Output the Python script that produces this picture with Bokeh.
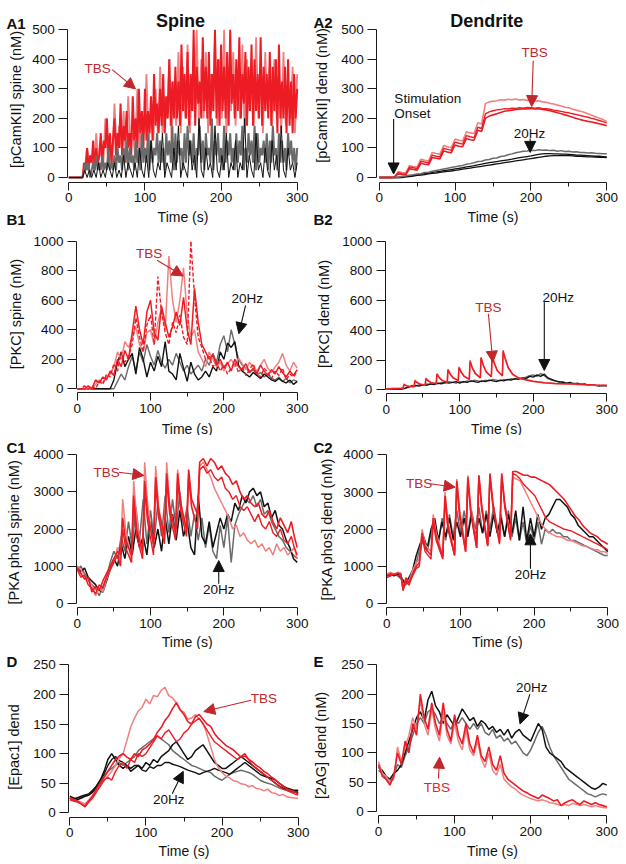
import math
from bokeh.plotting import figure
from bokeh.layouts import column, row
from bokeh.models import Range1d, Label, Arrow, NormalHead, FixedTicker
from bokeh.embed import file_html
from bokeh.resources import INLINE

FONT = "Liberation Sans"
RED = "#ed1c24"
PINK = "#f08080"
GRAY = "#6a6a6a"
BLACK = "#111111"
DARKRED = "#c1272d"

# ---------------- time bases ----------------
T5 = list(range(0, 301, 5))
T2 = list(range(0, 301, 2))
T3 = list(range(0, 301, 3))

# ---------------- A1: [pCamKII] spine ----------------
a1_red = [0,0,0,0,0,0,0,0,0,0,
          50,25,100,25,75,50,125,25,100,50,
          75,150,50,125,100,200,75,150,50,125,
          200,75,150,100,250,75,175,125,225,100,
          150,75,275,125,200,100,300,150,225,100,
          300,125,225,150,275,125,350,175,250,150,
          300,175,350,150,275,200,400,175,325,200,
          375,200,325,175,450,225,350,200,425,175,
          350,225,500,175,375,250,325,200,475,225,
          375,200,425,175,350,225,500,200,400,175,
          450,225,375,200,425,175,500,250,350,200,
          400,225,475,200,350,250,425,175,375,225,
          450,175,400,225,350,200,475,175,375,225,
          350,200,425,175,375,225,400,150,450,200,
          325,200,375,150,400,175,325,150,350,200,
          300]
a1_gray = [0,0,0,0,0,0,0,0,0,0,
           25,50,25,50,0,25,50,25,75,25,
           50,25,75,25,50,25,100,25,50,25,
           75,25,100,50,75,25,100,50,125,25,
           100,50,75,25,125,50,100,25,150,50,
           100,50,150,25,125,50,100,75,150,50,
           125,50,100,25,150,75,125,50,175,25,
           150,50,125,75,100,25,150,50,175,75,
           125,50,150,25,100,75,175,50,125,25,
           150,75,100,50,200,25,125,75,150,50,
           100,25,175,50,125,75,150,50,100,25,
           150,50,125,75,175,25,100,50,150,75,
           125,50,175,25,150,50,100,75,125,50,
           150,25,125,50,175,75,100,25,150,50,
           125,50,100,25,150,75,125,50,100,25,
           100]
a1_pink = [0,0,0,0,0,0,0,25,100,50,
           75,25,150,50,100,25,200,75,125,50,
           250,75,175,100,225,50,275,125,150,75,
           300,100,225,150,350,100,250,125,300,150,
           375,150,275,200,400,125,325,175,425,150,
           375,200,450,150,325,225,500,175,400,200,
           425,150,350,225,475,175,400,200,500,150,
           375,225,425,175,350,200,450,150,400,225,
           375,175,475,200,350,150,425,225,375,175,
           400,200,350,150,425,175,300,200,375,150,
           350]
a1_black = [0,0,0,0,0,0,0,25,0,25,
            0,25,0,50,0,25,0,50,25,0,
            50,0,25,0,75,0,50,25,0,50,
            0,100,25,0,75,0,125,25,0,50,
            25,150,0,50,25,0,100,25,175,0,
            50,25,0,125,25,75,0,200,25,0,
            100,25,50,0,175,25,0,75,25,150,
            0,50,25,125,0,50,25,200,0,75,
            25,0,150,25,50,0,100,25,0,125,
            25,75,0,175,25,0,100,25,50,0,
            50]

# ---------------- A2: [pCamKII] dend ----------------
a2_pink = [0,0,0,0,1,20,17,15,40,37,
           35,62,58,56,85,81,79,108,104,101,
           130,126,124,155,151,149,185,181,250,256,
           258,260,263,262,265,263,266,262,264,261,
           262,259,260,256,255,251,249,245,242,238,
           236,231,228,224,221,216,211,206,201,196,
           190]
a2_red = [0,0,0,0,1,12,10,9,30,27,
          25,48,45,43,68,65,63,90,86,84,
          110,106,104,132,128,126,160,156,200,208,
          212,216,220,224,226,228,230,231,233,232,
          234,232,233,230,229,226,223,219,216,212,
          208,204,200,196,193,190,188,185,182,179,
          175]
a2_red2 = [0,0,0,0,1,16,13,11,36,33,
           30,55,52,49,76,72,70,98,95,92,
           120,116,113,142,138,135,170,166,215,222,
           226,229,230,233,232,235,234,236,235,237,
           236,235,236,234,233,231,228,226,224,221,
           219,216,213,210,207,204,200,197,193,189,
           185]
a2_gray = [0,0,0,0,0,1,3,5,8,9,
           12,13,17,18,21,24,26,29,31,34,
           36,39,41,45,47,50,54,55,59,61,
           65,66,71,73,77,80,84,86,89,90,
           92,91,94,92,93,91,92,89,91,88,
           89,86,87,85,85,83,84,82,81,80,
           80]
a2_black = [0,0,0,0,0,0,1,3,5,7,
            9,11,13,15,17,19,21,23,25,27,
            29,31,33,36,38,40,43,45,48,50,
            52,54,56,58,60,62,65,67,69,71,
            73,76,78,80,81,81,80,80,79,79,
            78,77,76,76,75,74,73,72,72,71,
            70]
a2_black2 = [0,0,0,0,0,0,0,2,3,5,
             7,8,10,12,14,15,17,19,21,22,
             24,26,28,30,32,34,36,38,40,42,
             44,46,48,50,52,54,56,58,60,62,
             64,66,68,70,72,73,74,74,75,74,
             74,73,72,72,71,70,70,69,68,68,
             67]

# ---------------- B1: [PKC] spine ----------------
b1_red = [0,0,0,20,0,60,40,80,60,120,
          90,200,150,260,200,380,560,400,300,520,
          600,380,330,560,450,350,420,520,430,620,
          400,300,680,450,300,250,200,230,160,200,
          140,180,120,200,150,130,170,110,140,100,
          160,120,90,130,100,150,110,80,120,90,
          130]
b1_red2 = [0,0,20,0,20,0,50,30,100,80,
           170,120,250,180,220,300,480,350,250,430,
           500,300,760,520,380,300,450,380,500,350,
           300,1000,620,350,280,200,220,150,180,120,
           160,100,140,180,110,150,90,130,170,100,
           80,140,110,70,120,90,140,60,100,80,
           120]
b1_pink = [0,0,0,0,0,30,60,40,80,100,
           150,250,200,320,280,350,420,300,250,380,
           400,300,450,550,400,900,600,450,600,820,
           500,350,400,250,200,150,250,200,150,180,
           120,170,200,150,210,170,130,180,150,120,
           160,200,140,110,150,180,240,160,120,180,
           140]
b1_black = [0,0,0,0,0,0,0,0,0,0,
            60,180,250,150,200,240,100,280,200,80,
            180,120,220,150,320,120,100,60,240,140,
            50,180,100,60,80,120,80,150,120,250,
            200,310,280,320,160,120,100,80,110,90,
            70,100,80,60,50,70,50,40,60,30,
            50]
b1_gray = [0,0,0,0,0,0,0,0,0,0,
           0,50,100,60,150,220,120,250,180,300,
           220,160,260,180,140,200,160,240,180,120,
           160,100,130,160,120,200,160,240,180,300,
           360,250,400,300,200,160,140,110,130,90,
           110,80,100,70,60,80,50,70,40,60,
           50]

# ---------------- B2: [PKC] dend ----------------
b2_t_tbs = [0,10,20,23,24,27,31,38,39,42,46,53,54,57,61,68,69,72,76,83,
            84,87,91,98,99,102,106,113,114,117,121,128,129,132,136,143,144,147,151,158,
            159,162,166,172,180,190,200,215,230,250,270,285,300]
b2_red = [5,8,10,12,35,28,22,20,60,48,38,30,75,60,48,40,105,82,62,50,
          135,105,80,62,150,118,90,70,190,148,110,80,215,165,120,88,230,180,130,95,
          265,210,150,105,80,68,58,48,42,40,35,32,30]
b2_pink = [5,8,10,12,40,30,24,22,65,50,40,32,80,62,50,42,110,85,65,52,
           140,108,82,64,155,120,92,72,200,152,112,82,220,168,122,90,225,175,128,93,
           250,200,145,100,78,66,56,47,41,38,34,31,29]
b2_black = [5,5,5,5,5,10,20,25,30,25,
            35,30,40,35,45,40,50,45,50,55,
            45,55,50,60,55,50,60,55,65,60,
            55,65,60,70,65,75,70,80,75,90,
            85,100,90,105,80,70,60,55,50,45,
            50,40,45,35,40,30,35,30,25,30,
            25]
b2_gray = [5,5,5,5,5,8,15,30,25,35,
           30,40,35,45,40,50,45,55,50,45,
           55,50,60,55,65,60,55,65,60,70,
           65,60,70,65,75,70,80,75,85,95,
           100,90,110,95,75,65,60,50,55,45,
           40,45,35,40,35,30,35,28,30,25,
           28]

# ---------------- C1: [PKA phos] spine ----------------
c1_t_tbs = [0,5,10,15,20,25,30,35,40,45,50,55,59,62,66,74,77,81,89,92,
            96,104,107,111,119,122,126,134,137,141,149,152,156,164,167,172,177,182,187,192,
            197,202,207,212,217,222,227,232,237,242,247,252,257,262,267,272,277,282,287,292,
            296,300]
c1_red = [950,800,650,700,300,450,350,600,800,1000,1200,1400,1300,2300,1700,1300,2900,2000,1400,3300,
          2400,1600,3400,2500,1800,3500,2600,1900,3500,2700,2000,3600,2800,2400,3800,3900,3700,3900,3800,3600,
          3700,3500,3400,3200,3300,3000,2800,2900,2700,2600,2700,2400,2300,2500,2200,2000,2300,2100,1900,2200,
          1800,1500]
c1_red2 = [900,700,750,500,400,250,500,400,700,900,1100,1300,1000,2000,1500,1100,2700,1800,1200,3000,
           2200,1300,3200,2300,1600,3300,2400,1700,3300,2500,1800,3400,2600,2000,3600,3700,3500,3600,3400,3300,
           3400,3100,3000,2800,2900,2600,2500,2600,2400,2200,2400,2100,2000,2200,1900,1800,2000,1700,1600,1800,
           1500,1300]
c1_pink = [1000,900,750,600,500,200,400,300,650,900,1100,1500,1200,2800,2000,1100,3300,2300,1200,3800,
           2700,1500,3700,2600,1700,3800,2700,1800,3600,2600,1900,3500,2600,2000,3700,3800,3600,3400,3100,2900,
           2700,2500,2300,2000,2100,1800,1900,1700,1600,1700,1500,1600,1400,1500,1300,1600,1400,1500,1300,1400,
           1500,1200]
c1_black = [1000,850,950,700,600,500,350,300,600,900,
            1200,1000,1600,1200,1800,1300,2000,1500,1800,1300,
            2200,1500,2000,1400,2300,1600,2400,1700,2500,1800,
            2200,1500,1300,2900,1800,1600,2200,1500,1900,2300,
            2000,2400,2200,2700,2500,2900,2700,3000,3100,2900,
            3000,2600,2700,2300,2500,2100,2000,1700,1500,1200,
            1100]
c1_gray = [900,1000,800,650,500,400,200,450,700,1100,
           1400,1200,1800,1400,2200,1500,2600,1700,2800,1600,
           2500,1700,2700,1800,2900,1900,2800,2000,3000,2100,
           2600,1800,2400,1700,2300,1500,2100,1400,1200,2100,
           1500,2300,1100,2100,2400,2600,2800,2700,2900,2600,
           2800,2400,2500,2200,2000,1800,1700,1500,1400,1300,
           1200]

# ---------------- C2: [PKA phos] dend ----------------
c2_t_tbs = [0,5,10,15,19,22,26,30,35,40,44,48,52,60,63,67,76,79,83,92,
            95,99,107,110,114,122,125,129,137,140,144,153,156,160,168,171,176,181,186,191,
            196,201,206,211,216,221,226,231,236,241,246,251,256,261,266,271,276,281,286,291,
            296,300]
c2_red = [750,800,780,820,800,400,700,550,800,1000,1100,1900,1500,1300,2300,1800,1250,2900,2100,1300,
          3300,2400,1400,3400,2500,1500,3450,2600,1550,3500,2700,1650,3500,2700,1750,3550,3550,3500,3450,3450,
          3400,3400,3350,3300,3250,3200,3100,3000,2900,2800,2650,2500,2350,2250,2100,2000,1900,1850,1800,1700,
          1650,1600]
c2_red2 = [700,750,800,750,780,350,600,500,750,950,1000,1800,1400,1200,2200,1700,1200,2800,2000,1300,
           3200,2300,1400,3300,2400,1500,3400,2500,1550,3450,2600,1600,3450,2600,1700,3500,3450,3350,3200,3100,
           3000,2900,2700,2500,2300,2200,2150,2100,2050,2000,1980,1950,1900,1850,1800,1750,1700,1650,1600,1550,
           1500,1450]
c2_pink = [800,850,800,850,820,450,650,600,900,1100,1200,2000,1600,1400,2400,1900,1300,3000,2200,1400,
           3350,2500,1500,3450,2600,1600,3450,2600,1600,3450,2700,1700,3450,2700,1800,3400,3350,3300,3100,2900,
           2700,2500,2300,2100,2000,1900,1850,1800,1800,1750,1700,1700,1650,1600,1550,1550,1500,1450,1450,1400,
           1400,1350]
c2_black = [750,800,750,800,700,550,700,900,1300,1600,
            1800,1500,2000,2300,1700,2200,1800,2300,1700,2200,
            1800,2300,1800,2400,1800,2300,1900,2400,1800,2400,
            1900,2300,1800,2400,1900,2500,1700,2600,1700,2300,
            1800,2400,2000,2300,2400,2600,2800,2800,2700,2600,
            2400,2300,2100,2000,1900,1800,1800,1700,1600,1500,
            1400]
c2_gray = [800,750,800,750,650,500,600,800,1100,1500,
           1700,1400,1900,2200,1600,2300,1700,2400,1800,2500,
           1900,2500,1900,2500,2000,2600,1900,2500,2000,2600,
           1900,2400,1800,2500,1800,2300,1700,2200,1600,2100,
           1700,2200,1600,2000,1900,2000,1900,1900,1800,1800,
           1700,1700,1650,1600,1550,1500,1450,1400,1350,1300,
           1300]

# ---------------- D: [Epac1] dend ----------------
d_pink = [25,22,20,18,15,22,30,38,45,55,
          62,70,80,92,100,122,145,160,172,178,
          192,184,198,196,207,212,198,194,186,174,
          170,158,160,166,158,152,133,112,90,76,
          68,62,59,54,53,49,48,44,46,41,
          40,37,40,34,33,29,31,27,26,25,
          24]
d_red = [25,22,20,15,12,20,28,40,50,60,
         70,80,90,96,100,94,90,100,95,106,
         110,116,124,136,144,156,164,176,186,174,
         166,154,150,162,166,158,150,146,134,126,
         120,114,110,106,100,94,96,90,86,80,
         76,70,66,60,56,50,46,40,38,35,
         32]
d_red2 = [22,20,18,15,10,18,25,35,45,55,
          60,55,70,80,85,75,90,85,100,95,
          100,110,120,130,125,135,140,130,120,125,
          135,140,150,155,160,150,140,130,120,115,
          110,105,100,95,90,95,100,90,80,75,
          70,65,60,55,50,45,40,38,35,32,
          30]
d_black = [25,22,25,28,30,32,38,45,55,70,
           90,100,90,80,75,80,70,75,80,75,
           85,80,90,85,95,100,105,115,120,110,
           100,90,95,105,110,115,105,95,85,80,
           75,75,80,85,90,95,90,85,80,75,
           70,65,60,55,50,45,42,40,38,35,
           35]
d_black2 = [28,25,22,25,28,30,35,45,55,65,
            80,90,95,88,85,80,75,80,80,72,
            70,78,75,80,80,85,85,82,80,78,
            75,72,70,68,65,68,70,72,75,72,
            70,68,65,70,75,80,85,80,75,70,
            65,62,60,58,55,50,45,42,40,38,
            38]
d_gray = [25,24,26,25,28,30,35,42,50,60,
          70,75,80,85,80,85,90,95,105,110,
          115,120,125,130,125,120,115,105,100,95,
          90,85,80,78,75,72,70,68,62,58,
          55,60,65,68,70,72,70,68,65,60,
          55,52,50,48,45,42,40,38,36,35,
          34]

# ---------------- E: [2AG] dend ----------------
e_red = [80,60,55,45,60,100,80,120,100,150,
         130,200,160,140,185,150,130,185,140,120,
         165,130,115,150,115,100,130,95,85,110,
         80,70,95,65,55,50,45,40,35,32,
         28,25,22,28,25,22,18,20,10,15,
         18,20,15,12,18,15,12,15,12,10,
         8]
e_pink = [85,65,60,50,55,110,85,110,130,160,
          140,190,150,130,175,140,120,170,130,115,
          150,120,105,140,105,95,120,90,75,100,
          70,62,80,55,48,42,38,32,28,25,
          22,20,18,20,18,15,14,12,10,12,
          10,14,12,10,12,10,8,10,8,7,
          6]
e_black = [75,70,60,55,65,70,80,100,120,140,
           160,170,155,190,205,180,170,150,165,155,
           145,160,175,165,155,160,145,155,150,140,
           145,135,140,130,140,125,135,140,130,125,
           120,135,150,140,110,100,95,90,85,75,
           70,65,60,55,50,45,40,38,42,48,
           45]
e_gray = [70,65,55,50,60,80,75,95,110,130,
          150,160,150,170,175,165,150,160,150,140,
          155,150,160,150,140,150,140,150,135,130,
          140,125,130,120,125,115,120,110,100,95,
          105,120,135,145,130,110,95,85,75,65,
          55,50,45,40,35,30,28,25,28,30,
          28]

X_TICKS = [0, 100, 200, 300]
X_MINOR = [50, 150, 250]

# panel geometry in canvas pixels:
# width, height, px of t=0, px of t=300, px of y=max, px of y=0, y-axis line px, x-axis line px
GEO = {
    "A1": (312, 230, 68.3, 296.7, 29.3, 177.0, 67.3, 181.5),
    "A2": (313, 230, 66.7, 294.3, 29.3, 177.0, 64.3, 181.5),
    "B1": (312, 205, 76.7, 296.7, 10.7, 158.3, 76.0, 162.0),
    "B2": (313, 205, 73.7, 294.3, 10.7, 159.3, 72.7, 163.0),
    "C1": (312, 214, 76.7, 296.7, 19.3, 167.7, 76.0, 172.0),
    "C2": (313, 214, 74.3, 295.3, 19.3, 168.3, 73.7, 172.0),
    "D":  (312, 214, 69.3, 297.7, 15.3, 163.3, 68.3, 167.7),
    "E":  (313, 214, 66.0, 294.3, 15.3, 162.0, 64.3, 166.3),
}


class Panel:
    def __init__(self, key, ymax, ystep, ylabel, ylab_xy, time_xy):
        W, H, cx0, cx1, cyt, cy0, yax, xax = GEO[key]
        self.sx = (cx1 - cx0) / 300.0
        self.sy = (cy0 - cyt) / float(ymax)
        self.cx0, self.cy0 = cx0, cy0
        xs = -cx0 / self.sx
        xe = 300.0 + (W - cx1) / self.sx
        ye = ymax + cyt / self.sy
        ys = -(H - cy0) / self.sy
        p = figure(width=W, height=H, x_range=Range1d(xs, xe), y_range=Range1d(ys, ye),
                   output_backend="svg", toolbar_location=None,
                   min_border_left=0, min_border_right=0,
                   min_border_top=0, min_border_bottom=0)
        p.outline_line_color = None
        p.xgrid.visible = False
        p.ygrid.visible = False
        p.background_fill_color = "white"
        p.border_fill_color = "white"
        p.xaxis.ticker = FixedTicker(ticks=X_TICKS, minor_ticks=X_MINOR)
        p.yaxis.ticker = FixedTicker(ticks=list(range(0, ymax + 1, ystep)))
        p.xaxis.bounds = (0, 300)
        p.yaxis.bounds = (0, ymax)
        p.xaxis.fixed_location = self.dy(xax)
        p.yaxis.fixed_location = self.dx(yax)
        for ax in (p.xaxis[0], p.yaxis[0]):
            ax.axis_line_color = "#1a1a1a"
            ax.major_tick_line_color = "#1a1a1a"
            ax.minor_tick_line_color = "#1a1a1a"
            ax.major_label_text_font = FONT
            ax.major_label_text_font_size = "13.5px"
            ax.major_label_text_color = "#111111"
            ax.major_tick_in = 0
            ax.minor_tick_in = 0
        p.xaxis.major_tick_out = 8
        p.xaxis.minor_tick_out = 4
        p.xaxis.major_label_standoff = 3
        p.yaxis.major_tick_out = 9
        p.yaxis.minor_tick_out = 0
        p.yaxis.major_label_standoff = 4
        self.p = p
        self.text(ylab_xy[0], ylab_xy[1], ylabel, size="14.5px", align="center",
                  baseline="middle", angle=math.pi / 2)
        self.text(time_xy[0], time_xy[1], "Time (s)", size="14px", align="center",
                  baseline="middle")

    def dx(self, cx):
        return (cx - self.cx0) / self.sx

    def dy(self, cy):
        return (self.cy0 - cy) / self.sy

    def text(self, cx, cy, txt, size="13.5px", color="#111111", align="left",
             baseline="alphabetic", bold=False, angle=0.0):
        self.p.add_layout(Label(x=self.dx(cx), y=self.dy(cy), text=txt, text_font=FONT,
                                text_font_size=size, text_color=color, text_align=align,
                                text_baseline=baseline,
                                text_font_style="bold" if bold else "normal", angle=angle))

    def note(self, x, y, txt, color, align="center"):
        self.p.add_layout(Label(x=x, y=y, text=txt, text_font=FONT, text_font_size="13.5px",
                                text_color=color, text_align=align, text_baseline="middle"))

    def arrow(self, xs, ys, xe, ye, color):
        self.p.add_layout(Arrow(end=NormalHead(size=11, fill_color=color, line_color=color,
                                               line_width=1),
                                x_start=xs, y_start=ys, x_end=xe, y_end=ye,
                                line_color=color, line_width=1.1))

    def trace(self, t, y, color, width=1.4, dash="solid"):
        self.p.line(t, y, line_color=color, line_width=width, line_dash=dash)


# ---------- A1 ----------
A1 = Panel("A1", 500, 100, "[pCamKII] spine (nM)", (15, 99), (182.5, 216.7))
A1.trace(T3, a1_pink, PINK, 1.8)
A1.trace(T2, a1_red, RED, 2.0)
A1.trace(T2, a1_gray, GRAY, 2.0)
A1.trace(T3, a1_black, BLACK, 1.0)
A1.note(38, 368, "TBS", DARKRED)
A1.arrow(57, 365, 87.6, 300, DARKRED)
A1.text(180, 20, "Spine", size="18px", align="center", bold=True)
A1.text(6, 23, "A1", size="15px", bold=True)
A1.text(6, 219, "B1", size="15px", bold=True)

# ---------- A2 ----------
A2 = Panel("A2", 500, 100, "[pCamKII] dend (nM)", (9, 95), (180.5, 216.7))
A2.trace(T5, a2_black2, BLACK, 1.3)
A2.trace(T5, a2_black, BLACK, 1.3)
A2.trace(T5, a2_gray, GRAY, 1.5)
A2.trace(T5, a2_pink, PINK, 1.6)
A2.trace(T5, a2_red2, RED, 1.4)
A2.trace(T5, a2_red, RED, 1.6)
A2.note(205, 423, "TBS", DARKRED)
A2.arrow(203, 395, 201, 240, DARKRED)
A2.note(20, 266, "Stimulation", BLACK, align="left")
A2.note(20, 215, "Onset", BLACK, align="left")
A2.arrow(19, 198, 19, 12, BLACK)
A2.note(198, 148, "20Hz", BLACK)
A2.arrow(199, 132, 199, 85, BLACK)
A2.text(174.3, 20, "Dendrite", size="18px", align="center", bold=True)
A2.text(1, 22, "A2", size="15px", bold=True)
A2.text(1, 219, "B2", size="15px", bold=True)

# ---------- B1 ----------
B1 = Panel("B1", 1000, 200, "[PKC] spine (nM)", (15, 83.5), (186.7, 198))
B1.trace(T5, b1_gray, GRAY, 1.4)
B1.trace(T5, b1_black, BLACK, 1.4)
B1.trace(T5, b1_pink, PINK, 1.5)
B1.trace(T5, b1_red2, RED, 1.4, "4 2")
B1.trace(T5, b1_red, RED, 1.5)
B1.note(98, 916, "TBS", DARKRED)
B1.arrow(109, 871, 144.6, 764, DARKRED)
B1.note(232, 611, "20Hz", BLACK)
B1.arrow(229.6, 565, 220.5, 373, BLACK)

# ---------- B2 ----------
B2 = Panel("B2", 1000, 200, "[PKC] dend (nM)", (11, 83.5), (184, 198))
B2.trace(T5, b2_gray, GRAY, 1.4)
B2.trace(T5, b2_black, BLACK, 1.4)
B2.trace(b2_t_tbs, b2_pink, PINK, 1.5)
B2.trace(b2_t_tbs, b2_red, RED, 1.5)
B2.note(139, 556, "TBS", DARKRED)
B2.arrow(139, 511, 145, 186, DARKRED)
B2.note(234, 623, "20Hz", BLACK)
B2.arrow(215, 589, 215, 130, BLACK)

# ---------- C1 ----------
C1 = Panel("C1", 4000, 1000, "[PKA phos] spine (nM)", (13, 96.5), (186.7, 206.5))
C1.trace(T5, c1_gray, GRAY, 1.5)
C1.trace(T5, c1_black, BLACK, 1.5)
C1.trace(c1_t_tbs, c1_pink, PINK, 1.5)
C1.trace(c1_t_tbs, c1_red2, RED, 1.4)
C1.trace(c1_t_tbs, c1_red, RED, 1.6)
C1.note(40, 3531, "TBS", DARKRED)
C1.arrow(56.8, 3531, 90.9, 3442, DARKRED)
C1.note(193, 369, "20Hz", BLACK)
C1.arrow(193, 523, 193, 1150, BLACK)
C1.text(6, 12, "C1", size="15px", bold=True)

# ---------- C2 ----------
C2 = Panel("C2", 4000, 1000, "[PKA phos] dend (nM)", (14, 93.7), (184.8, 206.5))
C2.trace(T5, c2_gray, GRAY, 1.5)
C2.trace(T5, c2_black, BLACK, 1.5)
C2.trace(c2_t_tbs, c2_pink, PINK, 1.5)
C2.trace(c2_t_tbs, c2_red2, RED, 1.4)
C2.trace(c2_t_tbs, c2_red, RED, 1.6)
C2.note(44, 3221, "TBS", DARKRED)
C2.arrow(59, 3221, 92.8, 3131, DARKRED)
C2.note(195, 778, "20Hz", BLACK)
C2.arrow(195, 940, 195, 1879, BLACK)
C2.text(1, 12, "C2", size="15px", bold=True)

# ---------- D ----------
D = Panel("D", 250, 50, "[Epac1] dend", (13, 97.5), (183.5, 201))
D.trace(T5, d_gray, GRAY, 1.5)
D.trace(T5, d_black2, BLACK, 1.4)
D.trace(T5, d_black, BLACK, 1.5)
D.trace(T5, d_pink, PINK, 1.5)
D.trace(T5, d_red2, RED, 1.4)
D.trace(T5, d_red, RED, 1.6)
D.note(255, 193, "TBS", DARKRED)
D.arrow(238, 190, 176, 171, DARKRED)
D.note(130, 22.5, "20Hz", BLACK)
D.arrow(134.5, 32, 149, 70, BLACK)
D.text(6, 12, "D", size="15px", bold=True)

# ---------- E ----------
E = Panel("E", 250, 50, "[2AG] dend (nM)", (8, 96), (180, 201))
E.trace(T5, e_gray, GRAY, 1.5)
E.trace(T5, e_black, BLACK, 1.5)
E.trace(T5, e_pink, PINK, 1.5)
E.trace(T5, e_red, RED, 1.6)
E.note(201.5, 212, "20Hz", BLACK)
E.arrow(199, 200, 186, 149, BLACK)
E.note(76.6, 41.4, "TBS", RED)
E.arrow(78.8, 56, 80.2, 92.5, DARKRED)
E.text(1, 12, "E", size="15px", bold=True)

layout = column(row(A1.p, A2.p), row(B1.p, B2.p), row(C1.p, C2.p), row(D.p, E.p))

with open("out.html", "w") as f:
    f.write(file_html(layout, INLINE))
